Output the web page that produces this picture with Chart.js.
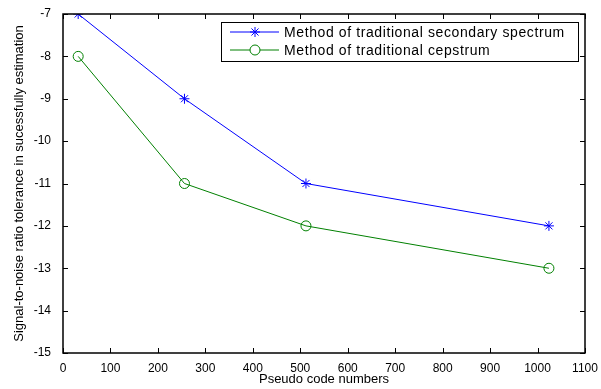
<!DOCTYPE html>
<html>
<head>
<meta charset="utf-8">
<script src="https://cdn.jsdelivr.net/npm/chart.js@4/dist/chart.umd.min.js"></script>
<style>
  html, body { margin: 0; padding: 0; background: #fff; }
  #wrap { width: 601px; height: 389px; }
</style>
</head>
<body>
<div id="wrap"><canvas id="c" width="601" height="389"></canvas></div>
<script>
// pseudo code lengths on the x axis
var codeNumbers = [32, 256, 512, 1024];
// SNR tolerance (dB) for each method
var secondarySpectrum = [-7, -9, -11, -12];
var cepstrum = [-8, -11, -12, -13];
var xTicks = [0, 100, 200, 300, 400, 500, 600, 700, 800, 900, 1000, 1100];
var yTicks = [-15, -14, -13, -12, -11, -10, -9, -8, -7];
var seriesNames = ['Method of traditional secondary spectrum', 'Method of traditional cepstrum'];

var FONT = 'Arial, "Liberation Sans", Helvetica, sans-serif';

function toPoints(xs, ys) {
  return xs.map(function (x, i) { return { x: x, y: ys[i] }; });
}

// matlab style box, inward ticks and legend
var boxPlugin = {
  id: 'matlabBox',
  afterDraw: function (chart) {
    var ctx = chart.ctx;
    var a = chart.chartArea;
    var xs = chart.scales.x, ys = chart.scales.y;
    ctx.save();
    ctx.strokeStyle = '#000';
    ctx.lineWidth = 1;
    ctx.beginPath();
    var len = 5;
    xTicks.forEach(function (v) {
      var px = Math.round(xs.getPixelForValue(v)) + 0.5;
      ctx.moveTo(px, a.bottom); ctx.lineTo(px, a.bottom - len);
      ctx.moveTo(px, a.top); ctx.lineTo(px, a.top + len);
    });
    yTicks.forEach(function (v) {
      var py = Math.round(ys.getPixelForValue(v)) + 0.5;
      ctx.moveTo(a.left, py); ctx.lineTo(a.left + len, py);
      ctx.moveTo(a.right, py); ctx.lineTo(a.right - len, py);
    });
    ctx.stroke();
    ctx.lineWidth = 1.5;
    ctx.strokeRect(a.left, a.top, a.right - a.left, a.bottom - a.top);

    // legend
    var lx = 221, ly = 22, lw = 357, lh = 39;
    ctx.fillStyle = '#fff';
    ctx.fillRect(lx, ly, lw, lh);
    ctx.lineWidth = 1;
    ctx.strokeRect(lx + 0.5, ly + 0.5, lw, lh);
    ctx.font = '14px ' + FONT;
    ctx.letterSpacing = '0.6px';
    ctx.textBaseline = 'middle';
    var rows = [
      { color: '#0000ff', name: seriesNames[0], marker: 'star', y: ly + 10 },
      { color: '#008000', name: seriesNames[1], marker: 'circle', y: ly + 28 }
    ];
    rows.forEach(function (r) {
      ctx.strokeStyle = r.color;
      ctx.lineWidth = 1;
      ctx.beginPath();
      ctx.moveTo(lx + 9, r.y); ctx.lineTo(lx + 58, r.y);
      ctx.stroke();
      ctx.fillStyle = '#fff';
      Chart.helpers.drawPoint(ctx, { pointStyle: r.marker, radius: 5, borderWidth: 1 }, lx + 34, r.y);
      ctx.fillStyle = '#000';
      ctx.fillText(r.name, lx + 63, r.y + 1);
    });
    ctx.restore();
  }
};

new Chart(document.getElementById('c'), {
  type: 'line',
  data: {
    datasets: [
      {
        label: seriesNames[0],
        data: toPoints(codeNumbers, secondarySpectrum),
        borderColor: '#0000ff',
        backgroundColor: 'rgba(0,0,0,0)',
        borderWidth: 1,
        pointStyle: 'star',
        pointRadius: 5,
        pointBorderColor: '#0000ff',
        pointBorderWidth: 1,
        tension: 0
      },
      {
        label: seriesNames[1],
        data: toPoints(codeNumbers, cepstrum),
        borderColor: '#008000',
        backgroundColor: 'rgba(0,0,0,0)',
        borderWidth: 1,
        pointStyle: 'circle',
        pointRadius: 5,
        pointBorderColor: '#008000',
        pointBackgroundColor: 'rgba(0,0,0,0)',
        pointBorderWidth: 1,
        tension: 0
      }
    ]
  },
  options: {
    responsive: false,
    animation: false,
    layout: { padding: { left: 0, top: 14, right: 16, bottom: 0 } },
    plugins: { legend: { display: false }, tooltip: { enabled: false } },
    scales: {
      x: {
        type: 'linear',
        min: 0, max: 1100,
        afterBuildTicks: function (s) { s.ticks = xTicks.map(function (v) { return { value: v }; }); },
        afterFit: function (s) { s.height = 36; },
        grid: { display: false },
        border: { display: false },
        ticks: {
          color: '#000', font: { family: FONT, size: 12 }, padding: 0, maxRotation: 0, autoSkip: false,
          callback: function (v) { return String(v); }
        },
        title: { display: true, text: 'Pseudo code numbers', color: '#000', font: { family: FONT, size: 13 }, padding: { top: 0, bottom: 2 } }
      },
      y: {
        type: 'linear',
        min: -15, max: -7,
        afterBuildTicks: function (s) { s.ticks = yTicks.map(function (v) { return { value: v }; }); },
        afterFit: function (s) { s.width = 63; },
        grid: { display: false },
        border: { display: false },
        ticks: {
          color: '#000', font: { family: FONT, size: 12 }, padding: 4, autoSkip: false,
          callback: function (v) { return String(v); }
        },
        title: { display: true, text: 'Signal-to-noise ratio tolerance in sucessfully estimation', color: '#000', font: { family: FONT, size: 13 }, padding: { top: 12, bottom: 0 } }
      }
    }
  },
  plugins: [boxPlugin]
});
</script>
</body>
</html>
